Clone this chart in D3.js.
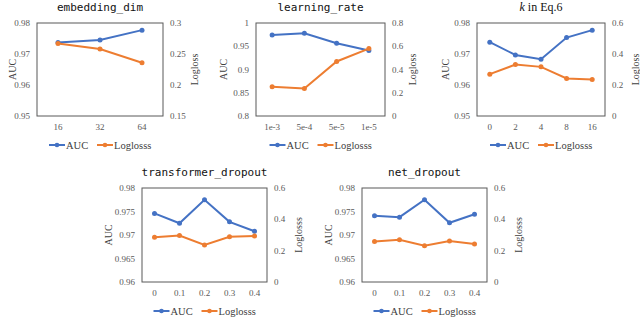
<!DOCTYPE html>
<html>
<head>
<meta charset="utf-8">
<script src="https://cdn.jsdelivr.net/npm/d3@7"></script>
<style>
body { margin: 0; background: #fff; }
.tick { fill: #595959; font-size: 9px; font-family: "Liberation Serif", serif; }
.axtitle { fill: #404040; font-size: 10px; font-family: "Liberation Serif", serif; }
.ptitle { font-family: "DejaVu Sans Mono", monospace; font-size: 11px; fill: #111; }
.ktitle { font-family: "Liberation Serif", serif; font-size: 12px; fill: #111; }
.leg { fill: #404040; font-size: 10.5px; font-family: "Liberation Serif", serif; }
</style>
</head>
<body>
<div id="chart"></div>
<script>
// ---- data ----
var embCats = ["16", "32", "64"];
var embAuc = [0.9737, 0.9745, 0.9777];
var embLoss = [0.267, 0.258, 0.236];

var lrCats = ["1e-3", "5e-4", "5e-5", "1e-5"];
var lrAuc = [0.974, 0.978, 0.9565, 0.941];
var lrLoss = [0.251, 0.237, 0.469, 0.580];

var kCats = ["0", "2", "4", "8", "16"];
var kAuc = [0.9738, 0.9697, 0.9683, 0.9753, 0.9777];
var kLoss = [0.270, 0.332, 0.317, 0.242, 0.235];

var tdCats = ["0", "0.1", "0.2", "0.3", "0.4"];
var tdAuc = [0.9746, 0.9725, 0.9775, 0.9728, 0.9708];
var tdLoss = [0.285, 0.297, 0.236, 0.289, 0.294];

var ndCats = ["0", "0.1", "0.2", "0.3", "0.4"];
var ndAuc = [0.9741, 0.9738, 0.9775, 0.9726, 0.9744];
var ndLoss = [0.259, 0.270, 0.232, 0.262, 0.243];

var embAucTicks = [0.95, 0.96, 0.97, 0.98], embLossTicks = [0.15, 0.2, 0.25, 0.3];
var lrAucTicks = [0.8, 0.85, 0.9, 0.95, 1], lrLossTicks = [0, 0.2, 0.4, 0.6, 0.8];
var kAucTicks = [0.95, 0.96, 0.97, 0.98], kLossTicks = [0, 0.2, 0.4, 0.6];
var dropAucTicks = [0.96, 0.965, 0.97, 0.975, 0.98], dropLossTicks = [0, 0.2, 0.4, 0.6];

var COL_AUC = "#4472c4", COL_LOSS = "#ed7d31";

var panels = [
	{title: "embedding_dim", cats: embCats, auc: embAuc, loss: embLoss, aT: embAucTicks, lT: embLossTicks,
	 box: [37, 163, 23, 116], yl: 25, yr: 31, rname: "Logloss"},
	{title: "learning_rate", cats: lrCats, auc: lrAuc, loss: lrLoss, aT: lrAucTicks, lT: lrLossTicks,
	 box: [256, 385, 23, 116], yl: 33, yr: 27, rname: "Logloss"},
	{title: "k", cats: kCats, auc: kAuc, loss: kLoss, aT: kAucTicks, lT: kLossTicks,
	 box: [477, 605, 23, 116], yl: 32, yr: 30, rname: "Logloss"},
	{title: "transformer_dropout", cats: tdCats, auc: tdAuc, loss: tdLoss, aT: dropAucTicks, lT: dropLossTicks,
	 box: [142, 267, 188, 282], yl: 34, yr: 31, rname: "Loglosss"},
	{title: "net_dropout", cats: ndCats, auc: ndAuc, loss: ndLoss, aT: dropAucTicks, lT: dropLossTicks,
	 box: [362, 487, 188, 282], yl: 34, yr: 31, rname: "Loglosss"}
];

var svg = d3.select("#chart").append("svg")
	.attr("width", 640)
	.attr("height", 317);

panels.forEach(function(p) {
	var x0 = p.box[0], x1 = p.box[1], y0 = p.box[2], y1 = p.box[3];
	var g = svg.append("g");

	var x = d3.scalePoint().domain(p.cats).range([x0, x1]).padding(0.5);
	var yA = d3.scaleLinear().domain(d3.extent(p.aT)).range([y1, y0]);
	var yL = d3.scaleLinear().domain(d3.extent(p.lT)).range([y1, y0]);

	// frame
	g.append("rect")
		.attr("x", x0).attr("y", y0)
		.attr("width", x1 - x0).attr("height", y1 - y0)
		.attr("fill", "none").attr("stroke", "#595959").attr("stroke-width", 1);

	// tick labels
	g.selectAll(".ta").data(p.aT).enter().append("text")
		.attr("class", "tick")
		.attr("x", x0 - 7).attr("y", function(d){ return yA(d); })
		.attr("dy", ".35em").attr("text-anchor", "end")
		.text(function(d){ return d3.format("")(d); });

	g.selectAll(".tl").data(p.lT).enter().append("text")
		.attr("class", "tick")
		.attr("x", x1 + 7).attr("y", function(d){ return yL(d); })
		.attr("dy", ".35em")
		.text(function(d){ return d3.format("")(d); });

	g.selectAll(".tx").data(p.cats).enter().append("text")
		.attr("class", "tick")
		.attr("x", function(d){ return x(d); }).attr("y", y1 + 14)
		.attr("text-anchor", "middle")
		.text(function(d){ return d; });

	// axis titles
	var cy = (y0 + y1) / 2;
	g.append("text").attr("class", "axtitle")
		.attr("transform", "translate(" + (x0 - p.yl) + "," + cy + ") rotate(-90)")
		.attr("text-anchor", "middle").attr("dy", ".35em")
		.text("AUC");
	g.append("text").attr("class", "axtitle")
		.attr("transform", "translate(" + (x1 + p.yr) + "," + cy + ") rotate(-90)")
		.attr("text-anchor", "middle").attr("dy", ".35em")
		.text(p.rname);

	// title
	var cx = (x0 + x1) / 2;
	if (p.title == "k") {
		var t = g.append("text").attr("class", "ktitle")
			.attr("x", cx).attr("y", y0 - 12)
			.attr("text-anchor", "middle");
		t.append("tspan").attr("font-style", "italic").text("k");
		t.append("tspan").text(" in Eq.6");
	} else {
		g.append("text").attr("class", "ptitle")
			.attr("x", cx).attr("y", y0 - 12)
			.attr("text-anchor", "middle")
			.text(p.title);
	}

	// series
	var series = [
		{vals: p.auc, y: yA, col: COL_AUC},
		{vals: p.loss, y: yL, col: COL_LOSS}
	];
	series.forEach(function(s) {
		var pts = p.cats.map(function(c, i){ return [x(c), s.y(s.vals[i])]; });
		g.append("path")
			.attr("d", d3.line()(pts))
			.attr("fill", "none").attr("stroke", s.col).attr("stroke-width", 2);
		g.selectAll(null).data(pts).enter().append("circle")
			.attr("cx", function(d){ return d[0]; }).attr("cy", function(d){ return d[1]; })
			.attr("r", 2.5).attr("fill", s.col);
	});

	// legend
	var ly = y1 + 29;
	var lg = g.append("g").attr("transform", "translate(" + (cx - 51) + "," + ly + ")");
	var items = [{name: "AUC", col: COL_AUC, off: 0}, {name: "Loglosss", col: COL_LOSS, off: 48}];
	items.forEach(function(it) {
		lg.append("line").attr("x1", it.off).attr("x2", it.off + 16)
			.attr("y1", 0).attr("y2", 0)
			.attr("stroke", it.col).attr("stroke-width", 2);
		lg.append("circle").attr("cx", it.off + 8).attr("cy", 0).attr("r", 2.3).attr("fill", it.col);
		lg.append("text").attr("class", "leg")
			.attr("x", it.off + 17).attr("y", 0).attr("dy", ".35em")
			.text(it.name);
	});
});
</script>
</body>
</html>
